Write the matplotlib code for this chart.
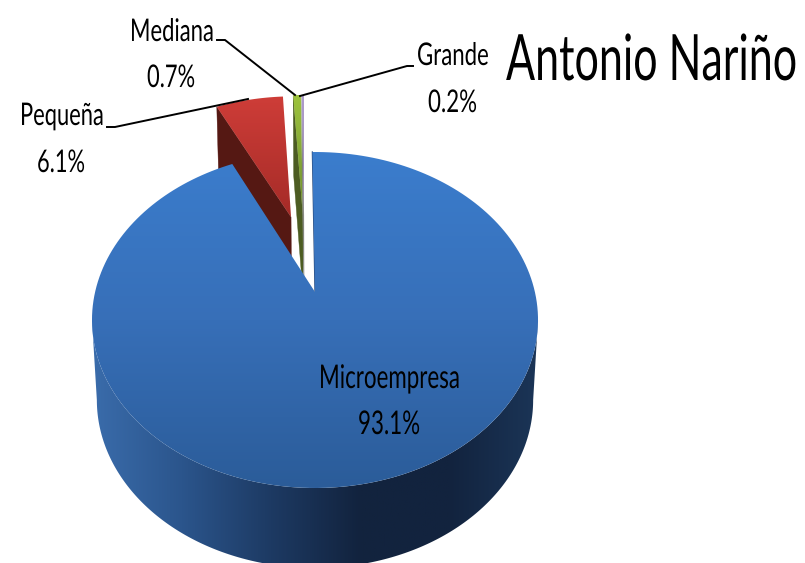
import numpy as np
import matplotlib
matplotlib.use('Agg')
import matplotlib.pyplot as plt
from matplotlib.colors import LinearSegmentedColormap
from matplotlib.patches import Polygon
from matplotlib.patheffects import AbstractPathEffect
from matplotlib.transforms import Affine2D

# datos
categorias = ['Microempresa', 'Pequeña', 'Mediana', 'Grande']
porcentajes = [93.1, 6.1, 0.7, 0.2]
etiquetas = ['93.1%', '6.1%', '0.7%', '0.2%']
titulo = 'Antonio Nariño'

# separacion de cada porcion
sep_x = [0, -0.118, -0.06, -0.055]
sep_y = [0, 0.497, 0.51, 0.51]
inicio = -0.8
k = 1 / 6

fig = plt.figure(figsize=(8.05, 5.63), dpi=100)
ax = fig.add_axes([0, 0, 1, 1])
ax.set_xlim(0, 805)
ax.set_ylim(563, 0)
ax.axis('off')


class Angosto(AbstractPathEffect):
    # la letra del original esta comprimida a lo ancho
    def __init__(self, sx, dx):
        self.sx = sx
        self.dx = dx

    def draw_path(self, renderer, gc, tpath, affine, rgbFace=None):
        t = Affine2D().scale(self.sx, 1) + affine + Affine2D().translate(self.dx, 0)
        renderer.draw_path(gc, tpath, t, rgbFace)


def proyectar(x, y, abajo=False):
    d = 1 + k * y
    if abajo:
        return 315 + 215.1 * x / d, 372 - 163.33 * y / d
    return 315 + 219.9 * x / d, 292 - 163.33 * y / d


def gradiente(xs, ys, colores, vertical, z):
    pts = np.column_stack([xs, ys])
    cmap = LinearSegmentedColormap.from_list('g', colores)
    if vertical:
        img = np.linspace(0, 1, 256).reshape(-1, 1)
    else:
        img = np.linspace(0, 1, 256).reshape(1, -1)
    im = ax.imshow(img, cmap=cmap, aspect='auto', zorder=z, origin='upper',
                   extent=[min(xs), max(xs), max(ys), min(ys)])
    im.set_clip_path(Polygon(pts, closed=True, transform=ax.transData))
    ax.set_xlim(0, 805)
    ax.set_ylim(563, 0)


def arco(a, b, ex=0, ey=0, abajo=False):
    t = np.radians(np.linspace(a, b, 200))
    return proyectar(np.sin(t) + ex, np.cos(t) + ey, abajo)


angulos = inicio + np.concatenate([[0], np.cumsum(porcentajes)]) * 3.6

# porciones separadas
top_colors = [None, ['#CE3D38', '#A52B27'], ['#9DC33D', '#6F8F2E'], ['#AE9BCB', '#8E7BAE']]
side_colors = [None, '#551813', '#4C5C22', '#7D7F78']
for i in [1, 2, 3]:
    a, b = angulos[i], angulos[i + 1]
    ex, ey = sep_x[i], sep_y[i]
    ax_top, ay_top = proyectar(ex, ey)
    ax_low, ay_low = proyectar(ex, ey, True)
    ini = np.radians(a)
    x1, y1 = proyectar(np.sin(ini) + ex, np.cos(ini) + ey)
    x2, y2 = proyectar(np.sin(ini) + ex, np.cos(ini) + ey, True)
    ax.fill([ax_top, x1, x2, ax_low], [ay_top, y1, y2, ay_low],
            color=side_colors[i], lw=0.3, zorder=2 + i)
    xs, ys = arco(a, b, ex, ey)
    xs = np.append(xs, ax_top)
    ys = np.append(ys, ay_top)
    gradiente(xs, ys, top_colors[i], True, 2.5 + i)

# microempresa: costado y cara superior
a, b = angulos[0], angulos[1]
borde = np.degrees(np.arccos(-k))
xs1, ys1 = arco(borde, 360 - borde)
xs2, ys2 = arco(borde, 360 - borde, abajo=True)
gradiente(np.concatenate([xs1, xs2[::-1]]), np.concatenate([ys1, ys2[::-1]]),
          ['#3A6CAB', '#2B558C', '#1D3A63', '#12233E', '#12233E', '#1B3557'], False, 8)

px, py = proyectar(0, 0)
xs, ys = arco(a, b)
xe = [xs[0], px]
ye = [ys[0], py]
ax.plot(xe, ye, color='#2A4A7A', lw=0.9, zorder=8.5)
gradiente(np.append(xs, px), np.append(ys, py), ['#3B7DCD', '#376FB8', '#2B5C99'], True, 9)

# lineas guia
guias = [[(107, 127), (115, 127), (248, 99)],
         [(217, 40), (225, 40), (295, 95)],
         [(413, 66), (407, 66), (300, 96)]]
for g in guias:
    ax.plot([p[0] for p in g], [p[1] for p in g], color='black', lw=1.4, zorder=12,
            solid_joinstyle='miter')

renderer = fig.canvas.get_renderer()


def texto(s, x0, x1, base, cap):
    t = ax.text((x0 + x1) / 2, base, s, fontsize=cap, family='Lato', ha='center', va='baseline',
                color='black', zorder=13)
    ancho = t.get_window_extent(renderer).width
    sx = (x1 - x0) / ancho
    # el texto sin comprimir queda centrado; el efecto lo lleva a x0
    t.set_path_effects([Angosto(sx, (x0 + x1) / 2 - ancho / 2 + ancho * 0 - ((x0 + x1) / 2 - ancho / 2) + x0 - ((x0 + x1) / 2 - ancho / 2))])


texto(categorias[0], 319, 460, 388, 23.5)
texto(etiquetas[0], 358, 420, 434, 23.5)
texto(categorias[1], 20, 104, 125, 22.5)
texto(etiquetas[1], 37, 85, 172, 22.5)
texto(categorias[2], 130, 214, 41, 22.5)
texto(etiquetas[2], 147, 195, 87, 22.5)
texto(categorias[3], 417, 489, 65, 22.5)
texto(etiquetas[3], 428, 477, 112, 22.5)
texto(titulo, 506, 797, 80, 46)

fig.savefig('out.png', dpi=100)
